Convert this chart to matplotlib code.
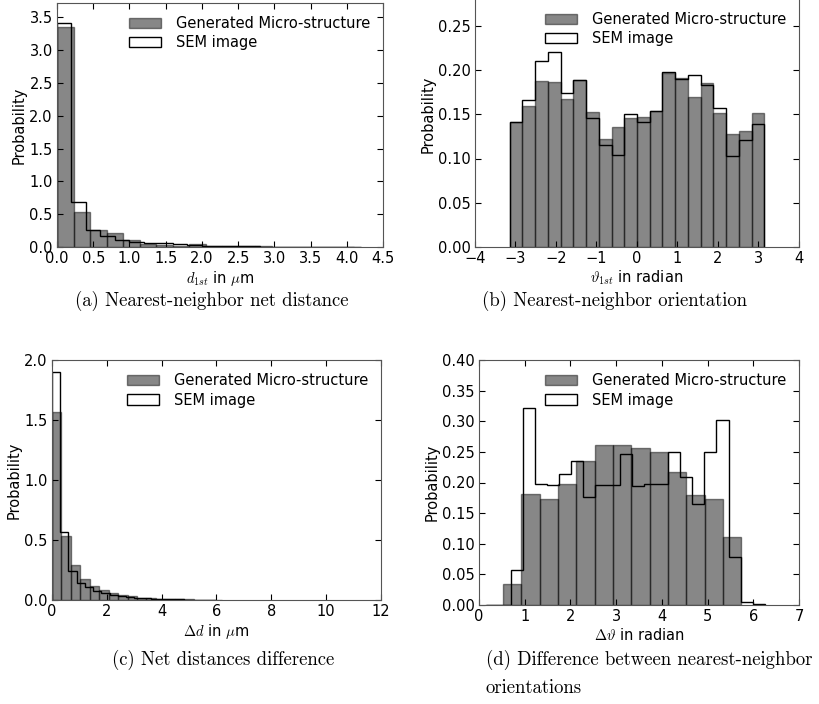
import numpy as np
import matplotlib
matplotlib.use('Agg')
import matplotlib.pyplot as plt

plt.rcParams['mathtext.fontset'] = 'cm'
plt.rcParams['font.size'] = 10.5
plt.rcParams['axes.unicode_minus'] = True

gen_label = 'Generated Micro-structure'
sem_label = 'SEM image'

# (a) nearest-neighbor net distance
a_gen_range = (0.0, 4.1)
a_gen = [3.36, 0.54, 0.26, 0.22, 0.10, 0.05, 0.03, 0.015, 0.04, 0.02,
         0.012, 0.01, 0.008, 0.006, 0.005, 0.004, 0.003, 0.006]
a_sem_range = (0.0, 4.2)
a_sem = [3.42, 0.68, 0.26, 0.17, 0.10, 0.07, 0.065, 0.06, 0.05, 0.03,
         0.02, 0.015, 0.01, 0.008, 0.005, 0.004, 0.003, 0.002, 0.002, 0.001, 0.002]

# (b) nearest-neighbor orientation
b_gen_range = (-np.pi, np.pi)
b_gen = [0.141, 0.159, 0.188, 0.186, 0.167, 0.189, 0.152, 0.122, 0.136, 0.146,
         0.147, 0.154, 0.197, 0.191, 0.169, 0.185, 0.151, 0.128, 0.131, 0.151]
b_sem_range = (-np.pi, np.pi)
b_sem = [0.141, 0.166, 0.210, 0.220, 0.174, 0.189, 0.146, 0.115, 0.104, 0.150,
         0.141, 0.154, 0.198, 0.190, 0.194, 0.183, 0.157, 0.103, 0.121, 0.139]

# (c) net distances difference
c_gen_range = (0.0, 6.2)
c_gen = [1.565, 0.53, 0.29, 0.175, 0.12, 0.085, 0.06, 0.045, 0.03, 0.02,
         0.015, 0.012, 0.01, 0.006, 0.006, 0.004, 0.004, 0.004]
c_sem_range = (0.0, 6.0)
c_sem = [1.90, 0.568, 0.24, 0.14, 0.11, 0.075, 0.055, 0.04, 0.03, 0.022,
         0.016, 0.013, 0.01, 0.008, 0.006, 0.005, 0.004, 0.003, 0.002, 0.002]

# (d) difference between nearest-neighbor orientations
d_gen_range = (0.125, 5.74)
d_gen = [0.0, 0.034, 0.1815, 0.173, 0.197, 0.235, 0.261, 0.262, 0.256, 0.249,
         0.217, 0.18, 0.173, 0.111]
d_sem_range = (0.16, 6.255)
d_sem = [0.0, 0.0, 0.057, 0.321, 0.198, 0.196, 0.214, 0.235, 0.176, 0.196,
         0.196, 0.246, 0.195, 0.198, 0.198, 0.249, 0.209, 0.165, 0.249, 0.302,
         0.078, 0.005, 0.001]

W, H = 820, 704
fig = plt.figure(figsize=(W / 100, H / 100), dpi=100)


def box(left, top, right, bottom):
    return [left / W, 1 - bottom / H, (right - left) / W, (bottom - top) / H]


def panel(pos, gen, gen_rng, sem, sem_rng, xlim, ylim, xticks, yticks, xlabel,
          legend_top=None):
    ax = fig.add_axes(box(*pos))
    ge = np.linspace(gen_rng[0], gen_rng[1], len(gen) + 1)
    se = np.linspace(sem_rng[0], sem_rng[1], len(sem) + 1)
    ax.hist(ge[:-1], bins=ge, weights=gen, color='k', alpha=0.47,
            edgecolor='k', linewidth=1, label=gen_label)
    ax.hist(se[:-1], bins=se, weights=sem, histtype='step', color='k',
            linewidth=1, label=sem_label)
    ax.set_xlim(*xlim)
    ax.set_ylim(*ylim)
    ax.set_xticks(xticks)
    ax.set_yticks(yticks)
    ax.tick_params(direction='in', top=True, right=True, length=4, pad=3,
                   labelsize=10.5)
    for s in ax.spines.values():
        s.set_color('#555555')
    ax.set_xlabel(xlabel, fontsize=10.5, labelpad=2)
    ax.set_ylabel('Probability', fontsize=10.5, labelpad=2)
    leg = dict(loc='upper right', frameon=False, fontsize=10.5,
               handlelength=2.2, handletextpad=1.0, labelspacing=0.3,
               borderaxespad=0.5)
    if legend_top is not None:
        # axes top lies above the figure edge: anchor legend in figure space
        leg['bbox_to_anchor'] = (pos[2] / W, 1 - legend_top / H)
        leg['bbox_transform'] = fig.transFigure
    ax.legend(**leg)
    return ax


panel((57, 3, 383, 247), a_gen, a_gen_range, a_sem, a_sem_range,
      (0, 4.5), (0, 3.72), np.arange(0, 4.51, 0.5), np.arange(0, 3.51, 0.5),
      r'$d_{1st}$ in $\mu$m')
panel((475, -18.5, 799, 247), b_gen, b_gen_range, b_sem, b_sem_range,
      (-4, 4), (0, 0.30), np.arange(-4, 5, 1), np.arange(0, 0.301, 0.05),
      r'$\vartheta_{1st}$ in radian', legend_top=-1)
panel((52, 360, 381, 600), c_gen, c_gen_range, c_sem, c_sem_range,
      (0, 12), (0, 2.0), np.arange(0, 13, 2), np.arange(0, 2.01, 0.5),
      r'$\Delta d$ in $\mu$m')
panel((479, 360, 799, 605), d_gen, d_gen_range, d_sem, d_sem_range,
      (0, 7), (0, 0.40), np.arange(0, 8, 1), np.arange(0, 0.401, 0.05),
      r'$\Delta\vartheta$ in radian')

cap = dict(fontfamily='cmr10', fontsize=13.5, va='center')
fig.text(212 / W, 1 - 301 / H, '(a) Nearest-neighbor net distance', ha='center', **cap)
fig.text(615 / W, 1 - 301 / H, '(b) Nearest-neighbor orientation', ha='center', **cap)
fig.text(223 / W, 1 - 660 / H, '(c) Net distances difference', ha='center', **cap)
fig.text(486 / W, 1 - 660 / H, '(d) Difference between nearest-neighbor', ha='left', **cap)
fig.text(486 / W, 1 - 688 / H, 'orientations', ha='left', **cap)

fig.savefig('out.png', dpi=100, facecolor='white')
